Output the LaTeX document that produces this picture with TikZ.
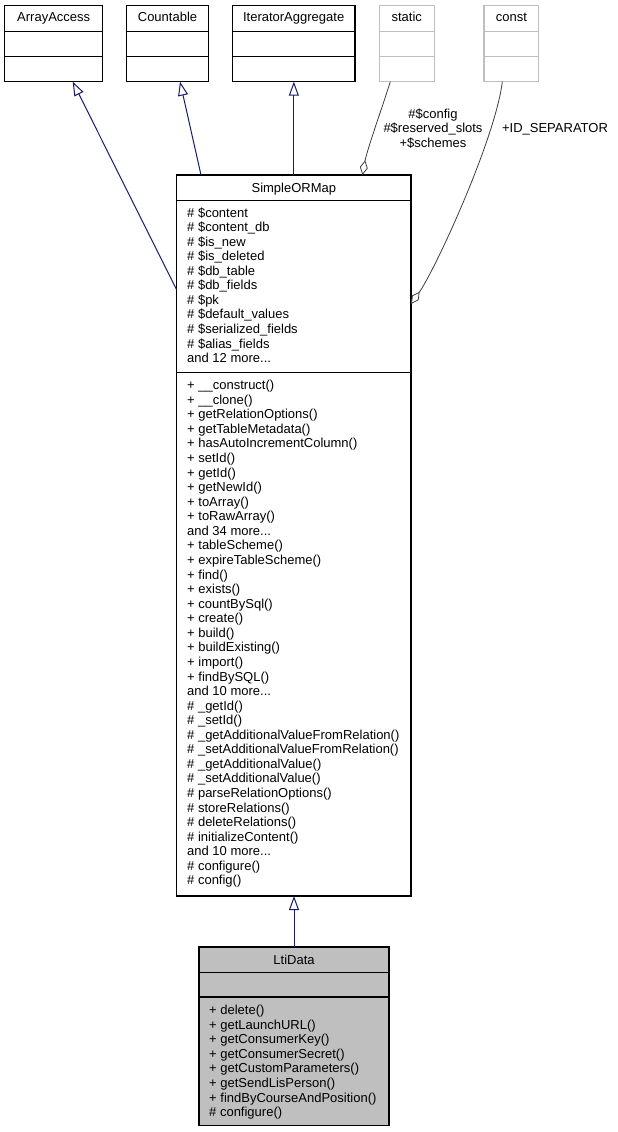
\documentclass[tikz,border=0pt]{standalone}
\usepackage{fontspec}
\setmainfont{Liberation Sans}
\usetikzlibrary{arrows.meta}
\definecolor{navyline}{HTML}{191970}
\definecolor{aggline}{HTML}{404040}
\definecolor{lightframe}{HTML}{BFBFBF}
\definecolor{ltifill}{HTML}{BFBFBF}
\newcommand\mythreedots{...}
\begin{document}
\begin{tikzpicture}[x=1pt,y=-1pt,
  box/.style={draw=black, line width=1.1pt, fill=white, inner sep=0pt, outer sep=0pt, anchor=north west},
  greybox/.style={draw=lightframe, line width=1.1pt, fill=white, inner sep=0pt, outer sep=0pt, anchor=north west},
  divline/.style={draw=black, line width=1.1pt},
  greydiv/.style={draw=lightframe, line width=1.1pt},
  txt/.style={font=\fontsize{13}{14.57}\selectfont, inner sep=0pt, text=black},
  lbl/.style={txt, anchor=base west},
  ttl/.style={txt, anchor=base},
  inh/.style={draw=navyline, line width=1pt, -{Triangle[length=14pt, width=10pt, fill=white]}},
  aggr/.style={draw=aggline, line width=0.8pt, {Diamond[length=15pt, width=8pt, fill=white]}-}
]
\useasboundingbox (0,0) rectangle (618,1132);
\fill[white] (0,0) rectangle (618,1132);

% ---- top boxes ----
\node[box, minimum width=98pt, minimum height=76pt] (aa) at (4.7,5.7) {};
\draw[divline] (4.7,31.7) -- (102.7,31.7);
\draw[divline] (4.7,56.7) -- (102.7,56.7);
\node[ttl] (aat) at (53.7,22) {ArrayAccess};

\node[box, minimum width=81.6pt, minimum height=76pt] (ct) at (126.7,5.7) {};
\draw[divline] (126.7,31.7) -- (208.3,31.7);
\draw[divline] (126.7,56.7) -- (208.3,56.7);
\node[ttl] (ctt) at (167.5,22) {Countable};

\node[box, minimum width=122.7pt, minimum height=76pt] (ia) at (232.3,5.7) {};
\draw[divline] (232.3,31.7) -- (355,31.7);
\draw[divline] (232.3,56.7) -- (355,56.7);
\node[ttl] (iat) at (293.65,22) {IteratorAggregate};

\node[greybox, minimum width=55pt, minimum height=76pt] (st) at (379.3,5.7) {};
\draw[greydiv] (379.3,31.7) -- (434.3,31.7);
\draw[greydiv] (379.3,56.7) -- (434.3,56.7);
\node[ttl] (stt) at (406.8,22) {static};

\node[greybox, minimum width=54.7pt, minimum height=76pt] (cs) at (484,5.7) {};
\draw[greydiv] (484,31.7) -- (538.7,31.7);
\draw[greydiv] (484,56.7) -- (538.7,56.7);
\node[ttl] (cst) at (511.35,22) {const};

% ---- SimpleORMap ----
\node[box, minimum width=234.3pt, minimum height=721pt] (sm) at (176.7,175) {};
\draw[divline] (176.7,200.7) -- (411,200.7);
\draw[divline] (176.7,372.5) -- (411,372.5);
\node[ttl] (smt) at (293.85,192) {SimpleORMap};

\foreach \t [count=\i] in {%
  \# \$content, \# \$content\_db, \# \$is\_new, \# \$is\_deleted, \# \$db\_table,
  \# \$db\_fields, \# \$pk, \# \$default\_values, \# \$serialized\_fields,
  \# \$alias\_fields, and 12 more\mythreedots}
  \node[lbl] (sma\i) at (187,{217+(\i-1)*14.57}) {\t};

\foreach \t [count=\i] in {%
  + \_\_construct(), + \_\_clone(), + getRelationOptions(), + getTableMetadata(),
  + hasAutoIncrementColumn(), + setId(), + getId(), + getNewId(), + toArray(),
  + toRawArray(), and 34 more\mythreedots, + tableScheme(), + expireTableScheme(),
  + find(), + exists(), + countBySql(), + create(), + build(), + buildExisting(),
  + import(), + findBySQL(), and 10 more\mythreedots, \# \_getId(), \# \_setId(),
  \# \_getAdditionalValueFromRelation(), \# \_setAdditionalValueFromRelation(),
  \# \_getAdditionalValue(), \# \_setAdditionalValue(), \# parseRelationOptions(),
  \# storeRelations(), \# deleteRelations(), \# initializeContent(),
  and 10 more\mythreedots, \# configure(), \# config()}
  \node[lbl] (smm\i) at (187,{389.6+(\i-1)*14.57}) {\t};

% ---- LtiData ----
\node[box, fill=ltifill, minimum width=190pt, minimum height=178.7pt] (lt) at (199,947) {};
\draw[divline] (199,972.7) -- (389,972.7);
\draw[divline] (199,997) -- (389,997);
\node[ttl] (ltt) at (294,964.6) {LtiData};

\foreach \t [count=\i] in {%
  + delete(), + getLaunchURL(), + getConsumerKey(), + getConsumerSecret(),
  + getCustomParameters(), + getSendLisPerson(), + findByCourseAndPosition(),
  \# configure()}
  \node[lbl] (ltm\i) at (209,{1014.6+(\i-1)*14.57}) {\t};

% ---- inheritance ----
\draw[inh] ([yshift=-115pt]sm.north west) -- ([xshift=19pt]aa.south);
\draw[inh] ([xshift=-92.85pt]sm.north) -- ([xshift=12.5pt]ct.south);
\draw[inh] (sm.north) -- (sm.north |- ia.south);
\draw[inh] (lt.north) -- (lt.north |- sm.south);

% ---- aggregation ----
\draw[aggr] ([xshift=68.65pt]sm.north) .. controls (367,150) and (383,105) .. ([xshift=-16.5pt]st.south);
\draw[aggr] ([yshift=-129pt]sm.north east) .. controls (435,270) and (495,140) .. ([xshift=-9pt]cs.south);

\node[ttl] (l1) at (433,118) {\#\$config};
\node[ttl] (l2) at (433,132.3) {\#\$reserved\_slots};
\node[ttl] (l3) at (433,147.3) {+\$schemes};
\node[ttl] (l4) at (555,132.3) {+ID\_SEPARATOR};
\end{tikzpicture}
\end{document}
